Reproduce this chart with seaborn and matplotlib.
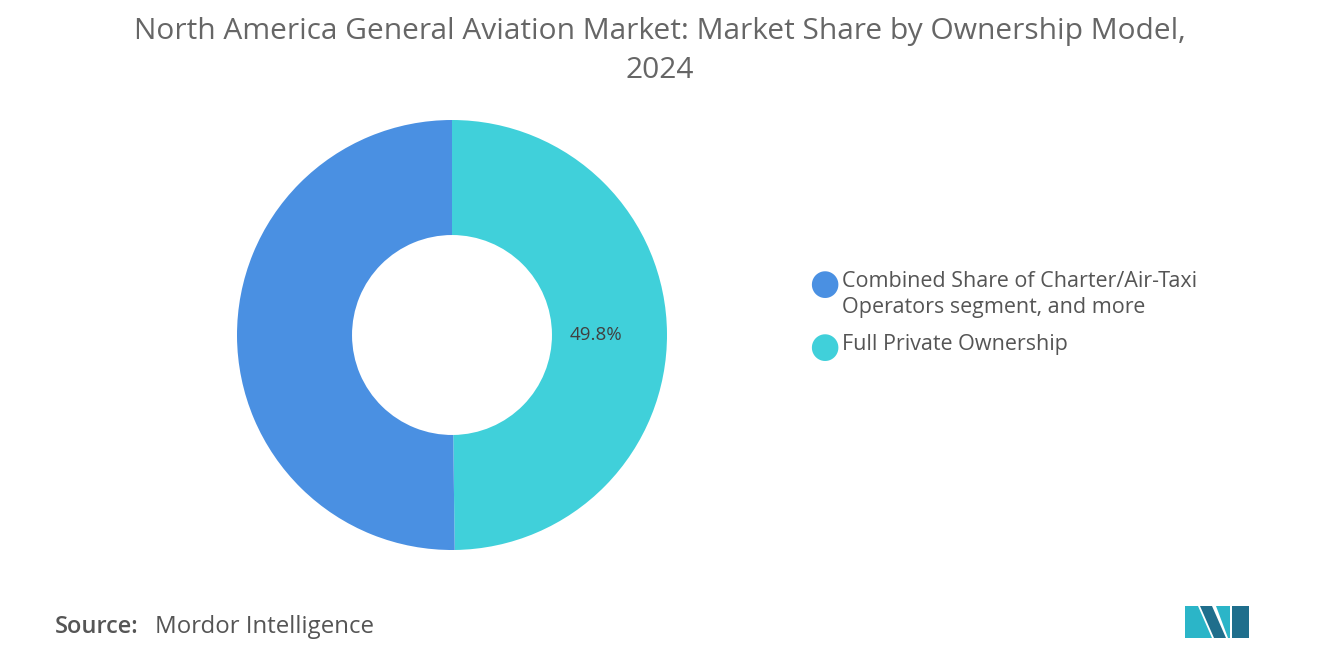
import matplotlib
matplotlib.use("Agg")
import matplotlib.pyplot as plt
import seaborn as sns
from matplotlib.patches import Polygon

labels = ["Full Private Ownership", "Combined Share of Charter/Air-Taxi\nOperators segment, and more"]
values = [49.8, 50.2]
colors = ["#40D0DA", "#4A90E2"]

sns.set_theme(style="white")
fig = plt.figure(figsize=(13.2, 6.65), dpi=100)
W, H = 1320, 665
cx, cy, r = 452, 335, 215
ax = fig.add_axes([(cx - r) / W, (H - cy - r) / H, 2 * r / W, 2 * r / H])
wedges, _ = ax.pie(values, colors=colors, startangle=90, counterclock=False,
                   wedgeprops=dict(width=0.535, linewidth=0))
ax.set_xlim(-1, 1)
ax.set_ylim(-1, 1)
ax.set_aspect("equal")
ax.text(0.67, 0.0, "49.8%", ha="center", va="center", fontsize=13.5, color="#404040", family="Open Sans")

fig.text(0.5, 0.975, "North America General Aviation Market: Market Share by Ownership Model,\n2024",
         ha="center", va="top", fontsize=21.5, color="#666666", family="Open Sans", linespacing=1.45)

leg_items = [(colors[1], labels[1], 284), (colors[0], labels[0], 347)]
for c, t, y in leg_items:
    fig.text(824 / W, 1 - y / H, "\u25CF", color=c, fontsize=25, ha="center", va="center")
    fig.text(842 / W, 1 - (y - 13) / H, t, fontsize=15.5, color="#555555", ha="left", va="top",
             family="Open Sans", linespacing=1.3)

fig.text(55 / W, 1 - 627 / H, "Source:", fontsize=17, color="#555555", fontweight="semibold",
         family="Open Sans", va="center")
fig.text(155 / W, 1 - 627 / H, "Mordor Intelligence", fontsize=17.3, color="#555555",
         family="Open Sans", va="center")

def P(pts, c):
    fig.patches.append(Polygon([(x / W, 1 - y / H) for x, y in pts], closed=True,
                               transform=fig.transFigure, facecolor=c, edgecolor="none"))
P([(1185, 638), (1185, 606), (1198, 606), (1212, 638)], "#2BB5C8")
P([(1200, 606), (1212, 606), (1226, 638), (1214, 638)], "#1F6E8C")
P([(1216, 606), (1230, 606), (1230, 638), (1228, 638)], "#2BB5C8")
P([(1232, 606), (1249, 606), (1249, 638), (1232, 638)], "#1F6E8C")

fig.savefig("out.png", dpi=100, facecolor="white")
